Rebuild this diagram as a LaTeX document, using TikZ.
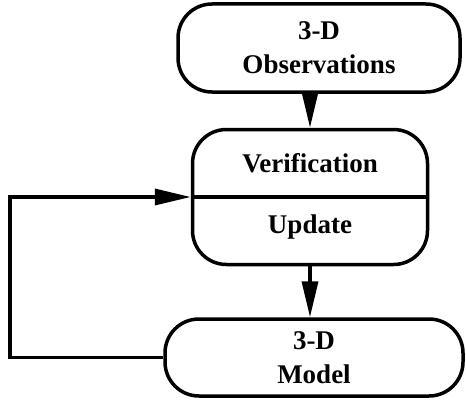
\documentclass[tikz,border=0pt]{standalone}
\usepackage{fontspec}
\setmainfont{Liberation Serif}
\usetikzlibrary{shapes,arrows.meta,positioning}

\begin{document}
\begin{tikzpicture}[
      x = 1pt, y = 1pt,
      > = {Triangle[length=36pt,width=16pt]},
      node distance = 35pt,
      line width = 3.5pt]
      \tikzstyle{block}=[
      draw = black,
      line width = 3.5pt,
      rounded corners = 34pt,
      align = center,
      font = \bfseries\fontsize{27}{34}\selectfont]
      \tikzstyle{label}=[
      font = \bfseries\fontsize{27}{34}\selectfont]

      \useasboundingbox (0,0) rectangle (466,400);

      \node[block, minimum width=282pt, minimum height=88pt] (obs) at (319,352) {3-D\\Observations};
      \node[block, minimum width=235pt, minimum height=135pt] (mid) [below=34pt of obs, xshift=-9pt] {};
      \node[block, minimum width=298pt, minimum height=77pt] (model) [below=51pt of mid, xshift=4pt] {3-D\\Model};

      \node[label] (verif) at ([yshift=34pt]mid.center) {Verification};
      \node[label] (upd) at ([yshift=-30pt]mid.center) {Update};
      \draw (mid.west) -- (mid.east);

      \coordinate (back) at (10,0);

      \path[->] (obs.south -| upd) edge (upd |- mid.north);
      \path[->] (mid.south -| upd) edge (upd |- model.north);
      \draw[->] (model.west) -| (back |- mid.west) -- (mid.west);
\end{tikzpicture}
\end{document}
